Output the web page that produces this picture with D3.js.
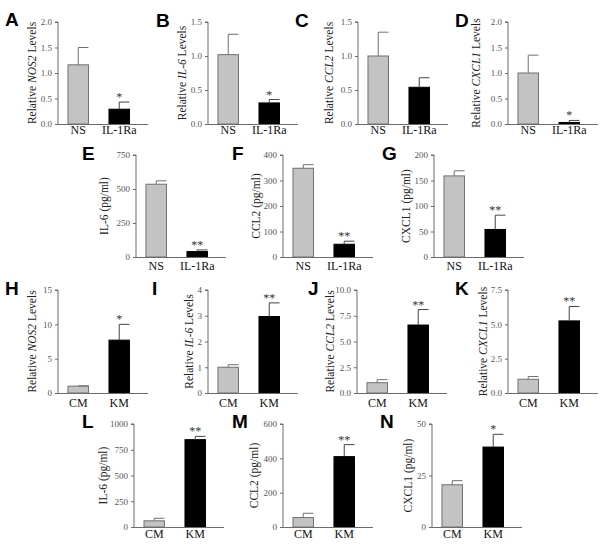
<!DOCTYPE html>
<html>
<head>
<meta charset="utf-8">
<script src="https://cdn.jsdelivr.net/npm/d3@7"></script>
<style>
  html, body { margin: 0; padding: 0; background: #fff; }
  svg { display: block; }
  .serif { font-family: "Liberation Serif", "Times New Roman", "DejaVu Serif", serif; }
  .sans { font-family: "Liberation Sans", Arial, sans-serif; }
</style>
</head>
<body>
<svg id="chart" width="600" height="545"></svg>
<script>
// ---------------- DATA ----------------
const panelLetters = ["A","B","C","D","E","F","G","H","I","J","K","L","M","N"];
const groupsIL1Ra = ["NS","IL-1Ra"];
const groupsKM = ["CM","KM"];
const panelGroups = [0,0,0,0,0,0,0,1,1,1,1,1,1,1]; // 0 -> NS/IL-1Ra, 1 -> CM/KM

// y-axis titles: [plain prefix, italic gene, plain suffix]
const yTitles = [
  ["Relative ","NOS2"," Levels"],
  ["Relative ","IL-6"," Levels"],
  ["Relative ","CCL2"," Levels"],
  ["Relative ","CXCL1"," Levels"],
  ["IL-6 (pg/ml)","",""],
  ["CCL2 (pg/ml)","",""],
  ["CXCL1 (pg/ml)","",""],
  ["Relative ","NOS2"," Levels"],
  ["Relative ","IL-6"," Levels"],
  ["Relative ","CCL2"," Levels"],
  ["Relative ","CXCL1"," Levels"],
  ["IL-6 (pg/ml)","",""],
  ["CCL2 (pg/ml)","",""],
  ["CXCL1 (pg/ml)","",""]
];

const controlMeans   = [1.16, 1.02, 1.00, 1.00, 535, 348, 159, 1.00, 1.00, 1.00, 1.00, 60, 55, 20.5];
const controlErrors  = [0.34, 0.30, 0.35, 0.35,  25,  14,  10, 0.05, 0.10, 0.30, 0.20, 25, 25, 2.0];
const treatedMeans   = [0.29, 0.31, 0.54, 0.03,  40,  50,  54, 7.7,  2.97, 6.6,  5.25, 848, 410, 38.8];
const treatedErrors  = [0.14, 0.05, 0.14, 0.04,  12,  12,  28, 2.3,  0.53, 1.5,  1.05, 32, 70, 6.2];
const significance   = ["*","*","","*","**","**","**","*","**","**","**","**","**","*"];

const yMaxima = [2, 1.5, 1.5, 2, 750, 400, 200, 15, 4, 10, 7.5, 1000, 600, 50];
const yTicks = [
  [0,0.5,1,1.5,2],
  [0,0.5,1,1.5],
  [0,0.5,1,1.5],
  [0,0.5,1,1.5,2],
  [0,250,500,750],
  [0,100,200,300,400],
  [0,50,100,150,200],
  [0,5,10,15],
  [0,1,2,3,4],
  [0,2.5,5,7.5,10],
  [0,2.5,5,7.5],
  [0,250,500,750,1000],
  [0,200,400,600],
  [0,25,50]
];
const tickDecimals = [1,1,1,1,0,0,0,0,0,1,1,0,0,0];

// ---------------- LAYOUT ----------------
const rowTop    = [22, 155, 290, 424];
const rowBottom = [124, 257, 393, 527];
const panelRow  = [0,0,0,0,1,1,1,2,2,2,2,3,3,3];
const axisX     = [58,208,358,508,136,283,434,58,208,357,508,134,283,432];
const titleOffset = [-22,-22,-25,-28,-28,-23,-24,-22,-15,-23,-21,-27,-25,-20];
const letterPos = [[5,26],[156,27],[295,27],[455,27],[82,160],[232,160],[382,160],
                   [5,295],[152,295],[308,295],[455,295],[82,428],[232,428],[380,428]];
const catBaseline = [134, 270, 407, 538];
const axisLength = 90;

const svg = d3.select("#chart");
const axisColor = "#6b6b6b";

panelLetters.forEach((letter, i) => {
  const row = panelRow[i];
  const x0 = axisX[i];
  const cats = panelGroups[i] === 0 ? groupsIL1Ra : groupsKM;
  const means = [controlMeans[i], treatedMeans[i]];
  const errs = [controlErrors[i], treatedErrors[i]];

  const x = d3.scaleBand().domain(cats).range([x0, x0 + axisLength])
    .paddingInner(0.5).paddingOuter(0.3476).align(0.35);
  const y = d3.scaleLinear().domain([0, yMaxima[i]]).range([rowBottom[row], rowTop[row]]);

  const g = svg.append("g");

  // bars
  g.selectAll("rect.bar").data(cats).enter().append("rect")
    .attr("x", d => x(d))
    .attr("y", (d, k) => y(means[k]))
    .attr("width", x.bandwidth())
    .attr("height", (d, k) => y(0) - y(means[k]))
    .attr("fill", (d, k) => k === 0 ? "#c3c3c3" : "#000")
    .attr("stroke", (d, k) => k === 0 ? "#707070" : "#000")
    .attr("stroke-width", 1);

  // error bars (upper only, cap to the right)
  cats.forEach((c, k) => {
    const cx = x(c) + x.bandwidth() / 2;
    const top = y(means[k] + errs[k]);
    g.append("line").attr("x1", cx).attr("x2", cx)
      .attr("y1", y(means[k])).attr("y2", top)
      .attr("stroke", k === 0 ? "#707070" : "#444").attr("stroke-width", 1);
    g.append("line").attr("x1", cx).attr("x2", cx + x.bandwidth() / 2)
      .attr("y1", top).attr("y2", top)
      .attr("stroke", k === 0 ? "#707070" : "#444").attr("stroke-width", 1);
  });

  // significance star
  if (significance[i]) {
    const cx = x(cats[1]) + x.bandwidth() / 2;
    g.append("text").attr("class", "serif")
      .attr("x", cx).attr("y", y(treatedMeans[i] + treatedErrors[i]) - 1)
      .attr("text-anchor", "middle")
      .style("font-size", "12px")
      .attr("fill", "#333")
      .text(significance[i]);
  }

  // y axis
  const yAxis = d3.axisLeft(y).tickValues(yTicks[i]).tickSize(3).tickPadding(3)
    .tickFormat(d3.format("." + tickDecimals[i] + "f"));
  const ya = g.append("g").attr("transform", `translate(${x0},0)`).call(yAxis);
  ya.attr("font-family", null).attr("font-size", null);
  ya.select(".domain").attr("stroke", axisColor).attr("d", `M-3,${rowTop[row]}H0V${rowBottom[row]}`);
  ya.selectAll(".tick line").attr("stroke", axisColor);
  ya.selectAll(".tick text").attr("class", "serif").style("font-size", "9px").attr("fill", "#555");

  // x axis line
  g.append("line").attr("x1", x0).attr("x2", x0 + axisLength)
    .attr("y1", y(0) + 0.5).attr("y2", y(0) + 0.5)
    .attr("stroke", axisColor).attr("stroke-width", 1);

  // category labels
  g.selectAll("text.cat").data(cats).enter().append("text")
    .attr("class", "serif")
    .attr("x", d => x(d) + x.bandwidth() / 2)
    .attr("y", catBaseline[row])
    .attr("text-anchor", "middle")
    .style("font-size", "12px")
    .attr("fill", "#111")
    .text(d => d);

  // y title
  const midY = (rowTop[row] + rowBottom[row]) / 2;
  const t = g.append("text").attr("class", "serif")
    .attr("transform", `translate(${x0 + titleOffset[i]},${midY}) rotate(-90)`)
    .attr("text-anchor", "middle")
    .style("font-size", "11.5px")
    .attr("fill", "#222");
  t.append("tspan").text(yTitles[i][0]);
  if (yTitles[i][1]) t.append("tspan").style("font-style", "italic").text(yTitles[i][1]);
  if (yTitles[i][2]) t.append("tspan").text(yTitles[i][2]);

  // panel letter
  svg.append("text").attr("class", "sans")
    .attr("x", letterPos[i][0]).attr("y", letterPos[i][1])
    .style("font-weight", "bold").style("font-size", "19px")
    .attr("fill", "#000")
    .text(letter);
});
</script>
</body>
</html>
